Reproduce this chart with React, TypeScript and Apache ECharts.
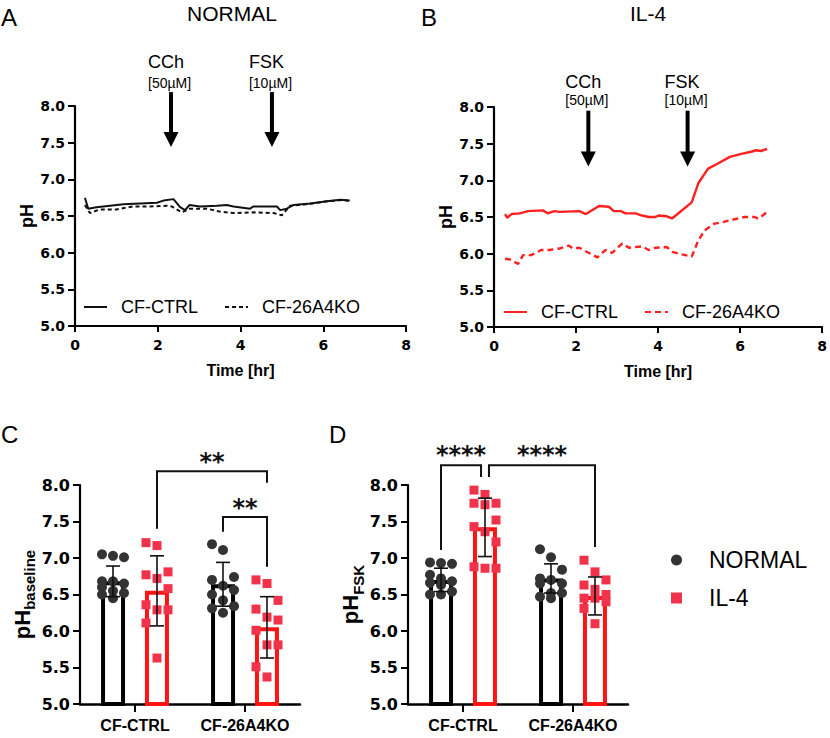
import React, { useEffect, useRef } from 'react';
import * as echarts from 'echarts';

// ---------- data ----------
const SERIES_NAMES = ['CF-CTRL', 'CF-26A4KO'];
const CATEGORIES = ['CF-CTRL', 'CF-26A4KO'];
const GROUPS = ['NORMAL', 'IL-4'];
const DRUG_NAMES = ['CCh', 'FSK'];
const DRUG_DOSES = ['[50µM]', '[10µM]'];
const ARROW_TIMES_A = [2.32, 4.76];
const ARROW_TIMES_B = [2.3, 4.72];

// Panel A (NORMAL) time courses [hr, pH]
const A_CTRL = [[0.24,6.75],[0.32,6.60],[0.52,6.62],[0.85,6.64],[1.17,6.66],[1.57,6.67],[1.98,6.68],[2.14,6.71],[2.38,6.73],[2.54,6.62],[2.66,6.58],[2.77,6.65],[3.02,6.63],[3.43,6.64],[3.67,6.65],[3.83,6.63],[4.23,6.60],[4.31,6.63],[4.88,6.63],[4.96,6.58],[5.12,6.60],[5.28,6.65],[5.69,6.67],[6.09,6.70],[6.41,6.72],[6.64,6.71]];
const A_KO = [[0.24,6.65],[0.36,6.54],[0.6,6.59],[1.0,6.59],[1.41,6.63],[1.81,6.63],[2.22,6.64],[2.34,6.63],[2.58,6.55],[2.78,6.60],[3.19,6.60],[3.5,6.56],[3.83,6.54],[4.31,6.55],[4.8,6.54],[5.0,6.51],[5.2,6.64],[5.6,6.66],[6.09,6.70],[6.49,6.72],[6.64,6.70]];

// Panel B (IL-4) time courses [hr, pH]
const B_CTRL = [[0.27,6.54],[0.32,6.49],[0.43,6.54],[0.63,6.55],[0.83,6.58],[1.19,6.59],[1.31,6.55],[1.47,6.58],[1.6,6.57],[2.08,6.58],[2.24,6.54],[2.56,6.65],[2.8,6.64],[2.92,6.58],[3.09,6.58],[3.21,6.55],[3.45,6.55],[3.61,6.52],[3.77,6.50],[3.93,6.50],[4.01,6.52],[4.21,6.51],[4.34,6.48],[4.82,6.70],[4.98,6.96],[5.22,7.16],[5.46,7.23],[5.75,7.32],[6.03,7.36],[6.27,7.39],[6.39,7.41],[6.51,7.40],[6.66,7.43]];
const B_KO = [[0.27,5.93],[0.39,5.92],[0.59,5.86],[0.71,5.98],[0.91,5.98],[1.15,6.05],[1.35,6.05],[1.59,6.07],[1.82,6.11],[1.92,6.07],[2.08,6.08],[2.28,6.02],[2.52,5.95],[2.72,6.05],[2.88,6.01],[3.13,6.14],[3.29,6.08],[3.61,6.10],[3.77,6.05],[3.93,6.08],[4.21,6.09],[4.37,6.02],[4.58,5.99],[4.82,5.96],[4.98,6.18],[5.14,6.32],[5.38,6.41],[5.58,6.43],[5.79,6.46],[6.11,6.50],[6.35,6.50],[6.43,6.48],[6.55,6.52],[6.66,6.57]];

// Panel C: pH baseline  (per category: CF-CTRL, CF-26A4KO)
const C_MEAN_NORMAL = [6.68, 6.64];
const C_MEAN_IL4 = [6.55, 6.05];
const C_SD_NORMAL = [0.21, 0.30];
const C_SD_IL4 = [0.48, 0.42];
const C_PTS_NORMAL = [
  [7.05, 7.03, 7.01, 6.68, 6.68, 6.65, 6.60, 6.55, 6.52, 6.50, 6.45],
  [7.19, 7.11, 6.74, 6.70, 6.62, 6.56, 6.50, 6.42, 6.34, 6.31, 6.25],
];
const C_PTS_IL4 = [
  [7.21, 7.17, 6.81, 6.77, 6.72, 6.58, 6.36, 6.29, 6.29, 6.11, 5.63],
  [6.70, 6.65, 6.42, 6.30, 6.19, 6.15, 6.01, 5.81, 5.81, 5.51, 5.37],
];

// Panel D: pH FSK
const D_MEAN_NORMAL = [6.70, 6.72];
const D_MEAN_IL4 = [7.42, 6.48];
const D_SD_NORMAL = [0.16, 0.20];
const D_SD_IL4 = [0.40, 0.26];
const D_PTS_NORMAL = [
  [6.94, 6.93, 6.92, 6.77, 6.72, 6.68, 6.66, 6.63, 6.54, 6.50, 6.50],
  [7.12, 7.01, 6.84, 6.72, 6.70, 6.65, 6.65, 6.52, 6.52, 6.47, 6.45],
];
const D_PTS_IL4 = [
  [7.93, 7.87, 7.75, 7.75, 7.73, 7.52, 7.43, 7.36, 7.22, 6.88, 6.86, 6.86],
  [6.97, 6.81, 6.70, 6.63, 6.57, 6.50, 6.45, 6.45, 6.40, 6.31, 6.10],
];

const SIG_C = ['**', '**'];
const SIG_D = ['****', '****'];

// ---------- style ----------
const RED_LINE = '#ff2020';
const RED_BAR = '#ff1414';
const RED_PT = '#f0324a';
const DARK_PT = '#333333';
const SANS = '"Liberation Sans", Arial, sans-serif';
const WIDE = '"DejaVu Sans", sans-serif';

function valueYAxis(grid: number, fontSize: number, name: any, nameGap: number, nameTextStyle: any) {
  return {
    type: 'value', gridIndex: grid, min: 5, max: 8, interval: 0.5,
    name, nameLocation: 'middle', nameGap, nameRotate: 90, nameTextStyle,
    axisLine: { show: true, lineStyle: { color: '#000', width: 2.2 } },
    axisTick: { show: true, length: 7, lineStyle: { color: '#000', width: 2 } },
    splitLine: { show: false },
    axisLabel: { formatter: (v: number) => v.toFixed(1), fontFamily: WIDE, fontWeight: 'bold', fontSize, color: '#000', margin: 10 },
  };
}

function timeXAxis(grid: number) {
  return {
    type: 'value', gridIndex: grid, min: 0, max: 8, interval: 2,
    name: 'Time [hr]', nameLocation: 'middle', nameGap: 36,
    nameTextStyle: { fontFamily: SANS, fontWeight: 'bold', fontSize: 16, color: '#000' },
    axisLine: { show: true, lineStyle: { color: '#000', width: 2.2 } },
    axisTick: { show: true, length: 6, lineStyle: { color: '#000', width: 2 } },
    splitLine: { show: false },
    axisLabel: { fontFamily: WIDE, fontWeight: 'bold', fontSize: 14, color: '#000', margin: 12 },
  };
}

function catXAxis(grid: number) {
  return {
    type: 'category', gridIndex: grid, data: CATEGORIES,
    axisLine: { show: true, lineStyle: { color: '#000', width: 2.5 } },
    axisTick: { show: true, alignWithLabel: true, interval: 0, length: 8, lineStyle: { color: '#000', width: 2 } },
    axisLabel: { interval: 0, hideOverlap: false, fontFamily: SANS, fontWeight: 'bold', fontSize: 16, color: '#000', margin: 13 },
  };
}

function arrowSeries(grid: number, times: number[], cfg: any) {
  return {
    type: 'custom', name: 'arrows' + grid, xAxisIndex: grid, yAxisIndex: grid, clip: false, silent: true,
    data: times.map((t) => [t, cfg.top]),
    renderItem: (params: any, api: any) => {
      const i = params.dataIndex;
      const t = api.value(0);
      const p1 = api.coord([t, cfg.top]);
      const p2 = api.coord([t, cfg.bottom]);
      const head = 15, hw = 7.5;
      const yName = api.coord([t, cfg.nameY])[1];
      const yDose = api.coord([t, cfg.doseY])[1];
      return {
        type: 'group',
        children: [
          { type: 'rect', shape: { x: p1[0] - 2, y: p1[1], width: 4, height: p2[1] - p1[1] - head + 1 }, style: { fill: '#000' } },
          { type: 'polygon', shape: { points: [[p2[0] - hw, p2[1] - head], [p2[0] + hw, p2[1] - head], [p2[0], p2[1]]] }, style: { fill: '#000' } },
          { type: 'text', x: p1[0] - 23, y: yName, style: { text: DRUG_NAMES[i], font: '18px ' + SANS, fill: '#000', align: 'left', verticalAlign: 'middle', textAlign: 'left', textVerticalAlign: 'middle' } },
          { type: 'text', x: p1[0] - 23, y: yDose, style: { text: DRUG_DOSES[i], font: '14px ' + SANS, fill: '#000', align: 'left', verticalAlign: 'middle', textAlign: 'left', textVerticalAlign: 'middle' } },
        ],
      };
    },
  };
}

function barSeries(grid: number, name: string, data: number[], color: string) {
  return {
    type: 'bar', name, xAxisIndex: grid, yAxisIndex: grid, data, barWidth: 24, barGap: '83%', z: 2,
    itemStyle: { color: 'rgba(255,255,255,0)', borderColor: color, borderWidth: 4 },
  };
}

function pointSeries(grid: number, name: string, side: number, pts: number[][], color: string, shape: string) {
  const data: number[][] = [];
  pts.forEach((vals, cat) => vals.forEach((v, i) => data.push([cat, v, i])));
  return {
    type: 'custom', name, xAxisIndex: grid, yAxisIndex: grid, clip: false, z: 3,
    itemStyle: { color }, data,
    renderItem: (params: any, api: any) => {
      const c = api.coord([api.value(0), api.value(1)]);
      const band = api.size([1, 0])[0];
      const x = c[0] + side * band * 0.2 + ((api.value(2) % 3) - 1) * band * 0.1;
      if (shape === 'circle') return { type: 'circle', shape: { cx: x, cy: c[1], r: 5 }, style: { fill: color } };
      return { type: 'rect', shape: { x: x - 4.5, y: c[1] - 4.5, width: 9, height: 9 }, style: { fill: color } };
    },
  };
}

function errorSeries(grid: number, side: number, means: number[], sds: number[]) {
  return {
    type: 'custom', name: 'err' + grid + side, xAxisIndex: grid, yAxisIndex: grid, clip: false, z: 4, silent: true,
    data: means.map((m, i) => [i, m, sds[i]]),
    renderItem: (params: any, api: any) => {
      const cat = api.value(0), m = api.value(1), sd = api.value(2);
      const hi = api.coord([cat, m + sd]);
      const lo = api.coord([cat, m - sd]);
      const band = api.size([1, 0])[0];
      const x = hi[0] + side * band * 0.2;
      const cap = 7;
      const st = { stroke: '#111', lineWidth: 1.6 };
      return {
        type: 'group',
        children: [
          { type: 'line', shape: { x1: x, y1: hi[1], x2: x, y2: lo[1] }, style: st },
          { type: 'line', shape: { x1: x - cap, y1: hi[1], x2: x + cap, y2: hi[1] }, style: st },
          { type: 'line', shape: { x1: x - cap, y1: lo[1], x2: x + cap, y2: lo[1] }, style: st },
        ],
      };
    },
  };
}

function bracketSeries(grid: number, brackets: any[], labels: string[]) {
  return {
    type: 'custom', name: 'sig' + grid, xAxisIndex: grid, yAxisIndex: grid, clip: false, z: 5, silent: true,
    data: brackets.map((b) => [b.from[0], b.top]),
    renderItem: (params: any, api: any) => {
      const b = brackets[params.dataIndex];
      const band = api.size([1, 0])[0];
      const xa = api.coord([b.from[0], b.top])[0] + b.from[1] * band * 0.2;
      const xb = api.coord([b.to[0], b.top])[0] + b.to[1] * band * 0.2;
      const yTop = api.coord([b.from[0], b.top])[1];
      const y1 = api.coord([b.from[0], b.y1])[1];
      const y2 = api.coord([b.to[0], b.y2])[1];
      const ty = api.coord([b.from[0], b.ty])[1];
      return {
        type: 'group',
        children: [
          { type: 'polyline', shape: { points: [[xa, y1], [xa, yTop], [xb, yTop], [xb, y2]] }, style: { stroke: '#111', lineWidth: 2, fill: 'none' } },
          { type: 'text', x: (xa + xb) / 2, y: ty + 5, style: { text: labels[params.dataIndex], font: 'bold 24px ' + WIDE, fill: '#111', align: 'center', verticalAlign: 'middle', textAlign: 'center', textVerticalAlign: 'middle' } },
        ],
      };
    },
  };
}

function label(text: string, x: number, y: number, size: number, align = 'left') {
  return {
    type: 'text', x, y,
    style: { text, font: size + 'px ' + SANS, fill: '#000', align, verticalAlign: 'middle', textAlign: align, textVerticalAlign: 'middle' },
  };
}

const lineLegend = (names: string[], left: number, top: number, extra: any = {}) => ({
  data: names, left, top, itemWidth: 23, itemHeight: 14, itemGap: 26, selectedMode: false, padding: 0,
  itemStyle: { opacity: 0, borderWidth: 0 },
  textStyle: { fontFamily: SANS, fontSize: 18, color: '#000', padding: [0, 0, 0, 9] },
  ...extra,
});

export default function App() {
  const ref = useRef<HTMLDivElement>(null);
  useEffect(() => {
    if (!ref.current) return;
    const chart = echarts.init(ref.current, null, { renderer: 'svg' });
    const axisTitle = { fontFamily: SANS, fontWeight: 'bold', fontSize: 18, color: '#000' };
    const richName = () => ({
      rich: {
        m: { fontFamily: SANS, fontWeight: 'bold', fontSize: 22, color: '#000', padding: [0, 0, 4, 0], verticalAlign: 'bottom' },
        s: { fontFamily: SANS, fontWeight: 'bold', fontSize: 15, color: '#000', verticalAlign: 'bottom' },
      },
    });
    const option: any = {
      animation: false,
      backgroundColor: '#fff',
      grid: [
        { left: 75, top: 106, width: 331, height: 220 },
        { left: 494, top: 107, width: 331, height: 220 },
        { left: 80, top: 485, width: 220, height: 219 },
        { left: 408, top: 485, width: 220, height: 219 },
      ],
      xAxis: [timeXAxis(0), timeXAxis(1), catXAxis(2), catXAxis(3)],
      yAxis: [
        valueYAxis(0, 14, 'pH', 33, axisTitle),
        valueYAxis(1, 14, 'pH', 33, axisTitle),
        valueYAxis(2, 16, '{m|pH}{s|baseline}', 43, richName()),
        valueYAxis(3, 16, '{m|pH}{s|FSK}', 42, richName()),
      ],
      legend: [
        lineLegend(SERIES_NAMES, 83, 298),
        lineLegend(SERIES_NAMES.map((n) => n + ' '), 503, 303, { formatter: (n: string) => n.trim() }),
        {
          data: [{ name: GROUPS[0], icon: 'circle' }, { name: GROUPS[1], icon: 'rect' }],
          orient: 'vertical', left: 671, top: 547, itemWidth: 11, itemHeight: 11, itemGap: 12, selectedMode: false, padding: 0,
          textStyle: { fontFamily: SANS, fontSize: 23, color: '#000', lineHeight: 26, padding: [0, 0, 0, 22] },
        },
      ],
      graphic: [
        label('A', 1, 17, 24),
        label('B', 421, 17, 24),
        label('C', 1, 434, 24),
        label('D', 329, 434, 24),
        label('NORMAL', 232, 13, 21, 'center'),
        label('IL-4', 648, 13, 21, 'center'),
      ],
      series: [
        { type: 'line', name: SERIES_NAMES[0], xAxisIndex: 0, yAxisIndex: 0, data: A_CTRL, symbol: 'none', lineStyle: { color: '#111', width: 2 }, itemStyle: { color: '#111' } },
        { type: 'line', name: SERIES_NAMES[1], xAxisIndex: 0, yAxisIndex: 0, data: A_KO, symbol: 'none', lineStyle: { color: '#111', width: 2, type: [4, 3] }, itemStyle: { color: '#111' } },
        { type: 'line', name: SERIES_NAMES[0] + ' ', xAxisIndex: 1, yAxisIndex: 1, data: B_CTRL, symbol: 'none', lineStyle: { color: RED_LINE, width: 2.4 }, itemStyle: { color: RED_LINE } },
        { type: 'line', name: SERIES_NAMES[1] + ' ', xAxisIndex: 1, yAxisIndex: 1, data: B_KO, symbol: 'none', lineStyle: { color: RED_LINE, width: 2.4, type: [6, 4] }, itemStyle: { color: RED_LINE } },
        arrowSeries(0, ARROW_TIMES_A, { top: 8.19, bottom: 7.44, nameY: 8.60, doseY: 8.32 }),
        arrowSeries(1, ARROW_TIMES_B, { top: 7.95, bottom: 7.19, nameY: 8.34, doseY: 8.09 }),

        pointSeries(2, GROUPS[0], -1, C_PTS_NORMAL, DARK_PT, 'circle'),
        pointSeries(2, GROUPS[1], 1, C_PTS_IL4, RED_PT, 'rect'),
        pointSeries(3, GROUPS[0], -1, D_PTS_NORMAL, DARK_PT, 'circle'),
        pointSeries(3, GROUPS[1], 1, D_PTS_IL4, RED_PT, 'rect'),

        barSeries(2, 'NORMAL mean C', C_MEAN_NORMAL, '#000'),
        barSeries(2, 'IL-4 mean C', C_MEAN_IL4, RED_BAR),
        barSeries(3, 'NORMAL mean D', D_MEAN_NORMAL, '#000'),
        barSeries(3, 'IL-4 mean D', D_MEAN_IL4, RED_BAR),

        errorSeries(2, -1, C_MEAN_NORMAL, C_SD_NORMAL),
        errorSeries(2, 1, C_MEAN_IL4, C_SD_IL4),
        errorSeries(3, -1, D_MEAN_NORMAL, D_SD_NORMAL),
        errorSeries(3, 1, D_MEAN_IL4, D_SD_IL4),

        bracketSeries(2, [
          { from: [0, 1], to: [1, 1], y1: 7.40, top: 8.19, y2: 8.03, ty: 8.38 },
          { from: [1, -1], to: [1, 1], y1: 7.36, top: 7.56, y2: 6.88, ty: 7.75 },
        ], SIG_C),
        bracketSeries(3, [
          { from: [0, -1], to: [0, 0.82], y1: 7.11, top: 8.27, y2: 8.11, ty: 8.48 },
          { from: [0, 1.18], to: [1, 1], y1: 8.11, top: 8.27, y2: 7.15, ty: 8.48 },
        ], SIG_D),
      ],
    };
    chart.setOption(option);
    return () => chart.dispose();
  }, []);
  return <div ref={ref} style={{ position: 'absolute', left: 0, top: 0, width: 830, height: 738 }} />;
}
